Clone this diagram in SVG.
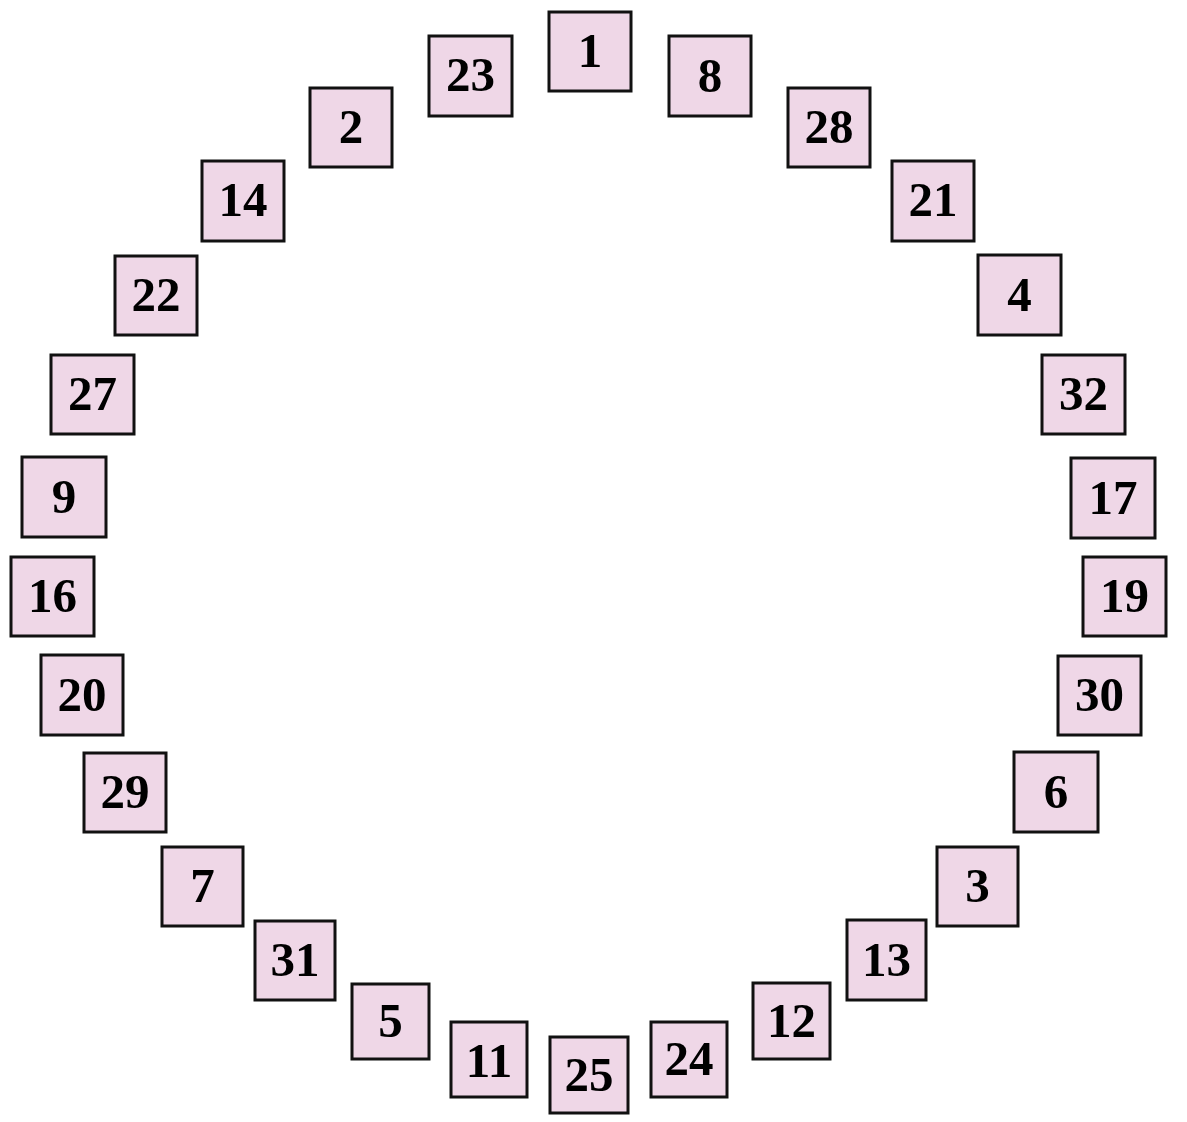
<svg xmlns="http://www.w3.org/2000/svg" width="1187" height="1122" viewBox="0 0 1187 1122">
<style>
.b rect{fill:#EFD7E7;stroke:#111;stroke-width:3}
.b text{font-family:"Liberation Serif","Times New Roman",serif;font-weight:bold;font-size:49px;fill:#000;text-anchor:middle}
</style>
<rect width="1187" height="1122" fill="#fff"/>
<g id="connectors"></g>
<g class="b">
<g id="n1"><rect x="549" y="12" width="82" height="79"/><text x="590" y="67">1</text></g>
<g id="n8"><rect x="669" y="36" width="82" height="80"/><text x="710" y="92">8</text></g>
<g id="n28"><rect x="788" y="88" width="82" height="79"/><text x="829" y="143">28</text></g>
<g id="n21"><rect x="892" y="161" width="82" height="80"/><text x="933" y="216">21</text></g>
<g id="n4"><rect x="978" y="255" width="83" height="80"/><text x="1019.5" y="311">4</text></g>
<g id="n32"><rect x="1042" y="355" width="83" height="79"/><text x="1083.5" y="410">32</text></g>
<g id="n17"><rect x="1071" y="458" width="84" height="80"/><text x="1113" y="514">17</text></g>
<g id="n19"><rect x="1083" y="557" width="83" height="79"/><text x="1124.5" y="612">19</text></g>
<g id="n30"><rect x="1058" y="656" width="83" height="79"/><text x="1099.5" y="711">30</text></g>
<g id="n6"><rect x="1014" y="752" width="84" height="80"/><text x="1056" y="808">6</text></g>
<g id="n3"><rect x="937" y="847" width="81" height="79"/><text x="977.5" y="902">3</text></g>
<g id="n13"><rect x="847" y="920" width="79" height="80"/><text x="886.5" y="976">13</text></g>
<g id="n12"><rect x="753" y="983" width="77" height="76"/><text x="791.5" y="1037">12</text></g>
<g id="n24"><rect x="651" y="1022" width="76" height="75"/><text x="689" y="1075">24</text></g>
<g id="n25"><rect x="550" y="1037" width="78" height="76"/><text x="589" y="1091">25</text></g>
<g id="n11"><rect x="451" y="1022" width="76" height="75"/><text x="489" y="1077">11</text></g>
<g id="n5"><rect x="352" y="984" width="77" height="75"/><text x="390.5" y="1037">5</text></g>
<g id="n31"><rect x="255" y="921" width="80" height="79"/><text x="295" y="976">31</text></g>
<g id="n7"><rect x="162" y="847" width="81" height="79"/><text x="202.5" y="902">7</text></g>
<g id="n29"><rect x="84" y="753" width="82" height="79"/><text x="125" y="808">29</text></g>
<g id="n20"><rect x="41" y="655" width="82" height="80"/><text x="82" y="711">20</text></g>
<g id="n16"><rect x="11" y="557" width="83" height="79"/><text x="52.5" y="612">16</text></g>
<g id="n9"><rect x="22" y="457" width="84" height="80"/><text x="64" y="513">9</text></g>
<g id="n27"><rect x="51" y="355" width="83" height="79"/><text x="92.5" y="410">27</text></g>
<g id="n22"><rect x="115" y="256" width="82" height="79"/><text x="156" y="311">22</text></g>
<g id="n14"><rect x="202" y="161" width="82" height="80"/><text x="243" y="216">14</text></g>
<g id="n2"><rect x="310" y="88" width="82" height="79"/><text x="351" y="143">2</text></g>
<g id="n23"><rect x="429" y="36" width="83" height="80"/><text x="470.5" y="91">23</text></g>
</g>
</svg>
